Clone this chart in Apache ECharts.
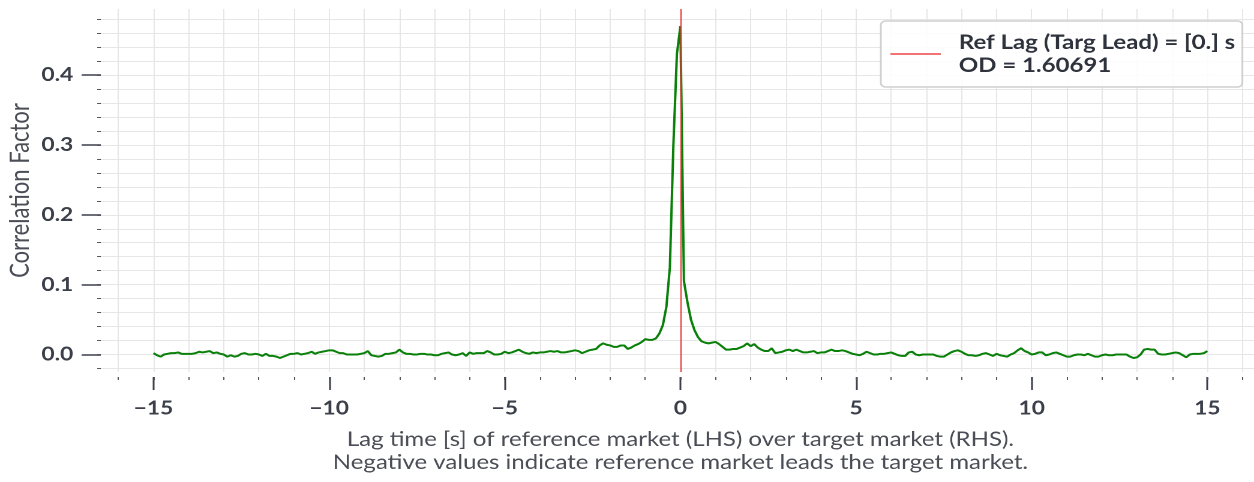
<!DOCTYPE html>
<html>
<head>
<meta charset="utf-8">
<title>Lag correlation</title>
<script src="https://cdn.jsdelivr.net/npm/echarts@6/dist/echarts.min.js"></script>
<style>
  html, body { margin: 0; padding: 0; background: #fff; overflow: hidden; }
  /* the reference figure is stretched sideways, so draw narrower and stretch it the same way */
  #chart { width: 1045px; height: 482px; transform: scaleX(1.2); transform-origin: 0 0; }
</style>
</head>
<body>
<div id="chart"></div>
<script>
// lag grid: -15 s .. +15 s, sampled every 0.1 s
const lagStart = -15;
const lagStep = 0.1;

// correlation factor, one value per lag step
const corr = [
  0.002, -0.001, -0.003, 0.000, 0.001, 0.002, 0.002, 0.003, 0.001, 0.001,
  0.001, 0.001, 0.002, 0.004, 0.003, 0.004, 0.005, 0.002, 0.003, 0.001,
  0.000, -0.003, -0.001, -0.003, -0.002, 0.001, 0.002, 0.000, 0.000, 0.001,
  0.000, -0.002, 0.001, -0.002, -0.002, -0.003, -0.005, -0.003, -0.001, 0.001,
  0.001, 0.002, 0.000, 0.001, 0.002, 0.004, 0.001, 0.003, 0.004, 0.005,
  0.006, 0.006, 0.004, 0.002, 0.002, 0.000, 0.000, 0.000, 0.000, 0.001,
  0.002, 0.005, -0.001, -0.002, -0.003, -0.002, 0.001, 0.001, 0.002, 0.003,
  0.007, 0.003, 0.001, 0.001, 0.000, 0.000, 0.001, 0.001, 0.000, 0.000,
  -0.001, -0.001, 0.001, 0.002, 0.003, 0.000, -0.001, 0.000, 0.002, -0.002,
  0.003, 0.001, 0.002, 0.002, 0.002, 0.005, 0.003, 0.000, 0.000, 0.001,
  0.004, 0.002, 0.003, 0.005, 0.007, 0.004, 0.002, 0.001, 0.003, 0.002,
  0.003, 0.003, 0.004, 0.005, 0.004, 0.005, 0.003, 0.003, 0.004, 0.005,
  0.006, 0.005, 0.002, 0.004, 0.006, 0.007, 0.008, 0.013, 0.016, 0.014,
  0.013, 0.011, 0.011, 0.013, 0.013, 0.008, 0.010, 0.013, 0.015, 0.018,
  0.022, 0.021, 0.021, 0.023, 0.030, 0.042, 0.068, 0.125, 0.300, 0.430,
  0.470, 0.105, 0.075, 0.050, 0.035, 0.025, 0.019, 0.017, 0.016, 0.017,
  0.018, 0.015, 0.011, 0.007, 0.007, 0.008, 0.008, 0.010, 0.012, 0.016,
  0.012, 0.015, 0.010, 0.007, 0.005, 0.005, 0.009, 0.002, 0.003, 0.004,
  0.006, 0.007, 0.005, 0.007, 0.005, 0.003, 0.003, 0.004, 0.005, 0.002,
  0.003, 0.003, 0.005, 0.007, 0.005, 0.005, 0.006, 0.005, 0.003, 0.001,
  0.000, -0.001, 0.001, 0.004, 0.002, 0.000, 0.000, 0.001, 0.001, 0.002,
  0.003, 0.001, -0.001, -0.002, -0.002, 0.003, 0.004, 0.000, -0.001, 0.000,
  0.000, 0.000, 0.000, -0.002, -0.003, -0.003, 0.000, 0.003, 0.005, 0.006,
  0.004, 0.001, -0.001, -0.001, -0.002, -0.001, 0.001, 0.002, 0.000, -0.002,
  0.001, -0.001, -0.002, -0.003, 0.000, 0.002, 0.006, 0.009, 0.005, 0.003,
  0.000, 0.001, 0.003, 0.003, -0.001, 0.000, 0.002, 0.003, 0.001, -0.001,
  -0.003, -0.003, -0.001, 0.000, 0.000, -0.001, 0.001, -0.001, -0.003, -0.003,
  -0.001, 0.000, -0.001, -0.001, 0.000, 0.000, 0.000, 0.000, -0.003, -0.005,
  -0.004, 0.000, 0.007, 0.008, 0.007, 0.007, 0.001, 0.000, 0.000, 0.001,
  0.002, 0.003, 0.002, -0.001, -0.004, 0.000, 0.001, 0.001, 0.001, 0.002,
  0.005
];

const refLag = 0;
const refLabel = 'Ref Lag (Targ Lead) = [0.] s\nOD = 1.60691';

// tick positions
const xMajorTicks = [-15, -10, -5, 0, 5, 10, 15];
const xMinorTicks = [-16, -15, -14, -13, -12, -11, -10, -9, -8, -7, -6, -5, -4, -3, -2, -1,
  0, 1, 2, 3, 4, 5, 6, 7, 8, 9, 10, 11, 12, 13, 14, 15, 16];
const yMajorTicks = [0, 0.1, 0.2, 0.3, 0.4];
const yMinorTicks = [-0.02, 0, 0.02, 0.04, 0.06, 0.08, 0.1, 0.12, 0.14, 0.16, 0.18, 0.2,
  0.22, 0.24, 0.26, 0.28, 0.3, 0.32, 0.34, 0.36, 0.38, 0.4, 0.42, 0.44, 0.46, 0.48];

const xMin = -16.5, xMax = 16.5;
const yMin = -0.025, yMax = 0.4945;

const points = corr.map((v, i) => [+(lagStart + i * lagStep).toFixed(1), v]);

const chart = echarts.init(document.getElementById('chart'), null, { renderer: 'canvas', devicePixelRatio: 2 });

const font = 'Lato, "Noto Sans", sans-serif';
const tickColor = '#3b3f4a';
const gridColor = '#e6e6e6';

const option = {
  animation: false,
  grid: { left: 84, top: 9, width: 966, height: 363, outerBoundsMode: 'none', containLabel: false },
  legend: {
    data: [refLabel],
    left: 734,
    top: 21,
    orient: 'vertical',
    icon: 'rect',
    itemWidth: 42,
    itemHeight: 1.5,
    padding: [10, 6, 10, 8],
    backgroundColor: 'rgba(255,255,255,0.85)',
    borderColor: '#cfcfcf',
    borderWidth: 1.5,
    borderRadius: 4,
    textStyle: {
      fontFamily: font,
      fontWeight: 'bold',
      fontSize: 20,
      lineHeight: 23,
      color: '#2e323c',
      padding: [0, 0, 0, 10]
    }
  },
  xAxis: [
    {
      type: 'value',
      min: xMin,
      max: xMax,
      offset: 5,
      axisLine: { show: false, onZero: false },
      axisTick: { show: true, customValues: xMajorTicks, length: 13, lineStyle: { color: tickColor, width: 1.5 } },
      axisLabel: {
        customValues: xMajorTicks,
        margin: 22,
        fontFamily: font,
        fontWeight: 'bold',
        fontSize: 19,
        color: tickColor,
        formatter: v => (v < 0 ? '\u2212' + Math.abs(v) : String(v))
      },
      splitLine: { show: false },
      name: 'Lag time [s] of reference market (LHS) over target market (RHS).\nNegative values indicate reference market leads the target market.',
      nameLocation: 'middle',
      nameGap: 51,
      nameMoveOverlap: false,
      nameTextStyle: { fontFamily: font, fontSize: 20, lineHeight: 23, color: '#4a4d55' }
    },
    {
      type: 'value',
      min: xMin,
      max: xMax,
      offset: 5,
      position: 'bottom',
      axisLine: { show: false, onZero: false },
      axisTick: { show: true, customValues: xMinorTicks, length: 3, lineStyle: { color: '#555', width: 1 } },
      axisLabel: { show: false },
      splitLine: { show: true, lineStyle: { color: gridColor, width: 1 } }
    }
  ],
  yAxis: [
    {
      type: 'value',
      min: yMin,
      max: yMax,
      position: 'left',
      axisLine: { show: false, onZero: false },
      axisTick: { show: true, customValues: yMajorTicks, length: 16, lineStyle: { color: tickColor, width: 1.5 } },
      axisLabel: {
        customValues: yMajorTicks,
        margin: 23,
        fontFamily: font,
        fontWeight: 'bold',
        fontSize: 19,
        color: tickColor,
        formatter: v => v.toFixed(1)
      },
      splitLine: { show: false },
      name: 'Correlation Factor',
      nameLocation: 'middle',
      nameGap: 56,
      nameMoveOverlap: false,
      nameTextStyle: { fontFamily: font, fontSize: 22, color: '#4a4d55' }
    },
    {
      type: 'value',
      min: yMin,
      max: yMax,
      position: 'left',
      axisLine: { show: false, onZero: false },
      axisTick: { show: true, customValues: yMinorTicks, length: 3, lineStyle: { color: '#555', width: 1 } },
      axisLabel: { show: false },
      splitLine: { show: true, lineStyle: { color: gridColor, width: 1 } }
    }
  ],
  series: [
    {
      name: 'corr',
      type: 'line',
      xAxisIndex: 0,
      yAxisIndex: 0,
      data: points,
      symbol: 'none',
      z: 3,
      lineStyle: { color: '#0a800a', width: 2 },
      itemStyle: { color: '#0a800a' }
    },
    {
      name: refLabel,
      type: 'line',
      xAxisIndex: 0,
      yAxisIndex: 0,
      data: [],
      symbol: 'none',
      z: 4,
      color: '#ee4444',
      lineStyle: { color: '#ee4444', width: 1 },
      markLine: {
        silent: true,
        symbol: 'none',
        label: { show: false },
        lineStyle: { color: '#e5322f', width: 1, type: 'solid' },
        data: [{ xAxis: refLag }]
      }
    }
  ]
};

chart.setOption(option);
</script>
</body>
</html>
